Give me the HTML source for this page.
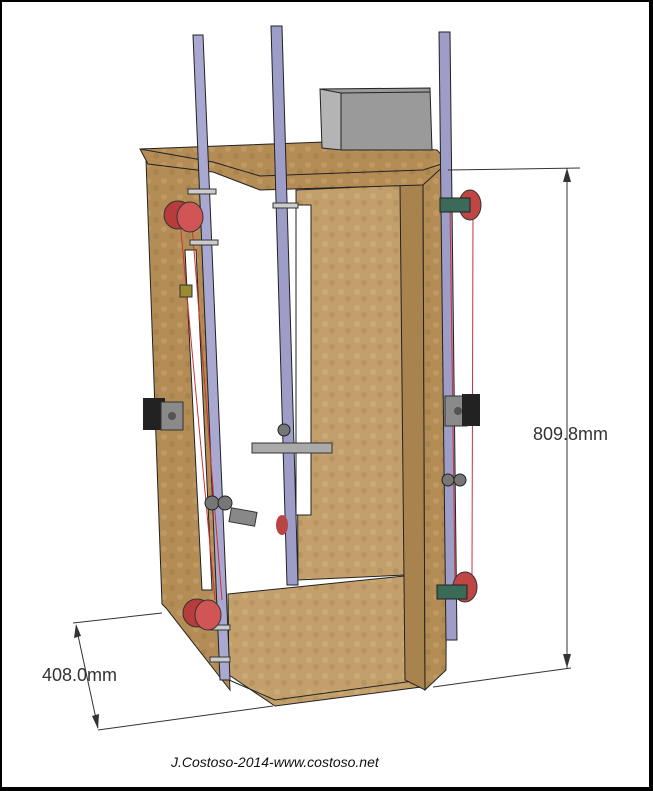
<!DOCTYPE html>
<html><head><meta charset="utf-8"><style>
html,body{margin:0;padding:0;background:#fff;}
svg{display:block;}
</style></head><body>
<svg width="653" height="791" viewBox="0 0 653 791" xmlns="http://www.w3.org/2000/svg">
<defs>
<pattern id="wood" width="16" height="16" patternUnits="userSpaceOnUse">
<rect width="16" height="16" fill="#b48d56"/>
<circle cx="4" cy="5" r="3" fill="#bf9862"/>
<circle cx="12" cy="12" r="3" fill="#a9834c"/>
</pattern>
<pattern id="woodL" width="16" height="16" patternUnits="userSpaceOnUse">
<rect width="16" height="16" fill="#c3a06b"/>
<circle cx="5" cy="4" r="3" fill="#cbaa76"/>
<circle cx="12" cy="11" r="3" fill="#b79460"/>
</pattern>
</defs>
<rect x="0" y="0" width="653" height="791" fill="#000"/>
<rect x="2" y="2" width="647" height="785" fill="#fff"/>

<polygon points="296,190 403,185 405,575 298,580" fill="url(#woodL)" stroke="#222" stroke-width="1"/>
<polygon points="296,205 311,205 311,515 296,515" fill="#fff" stroke="#222" stroke-width="1"/>
<polygon points="228,594 404,576 421,593 421,687 275,706 229,675" fill="url(#woodL)" stroke="#222" stroke-width="1"/>
<polyline points="229,680 275,700 421,680" fill="none" stroke="#222" stroke-width="1"/>
<polygon points="400,185 423,178 425,690 405,680" fill="#a9834e" stroke="#222" stroke-width="1"/>
<polygon points="423,178 448,162 446,670 425,690" fill="url(#wood)" stroke="#222" stroke-width="1"/>
<polygon points="146,160 205,170 230,690 166,608 162,604" fill="url(#wood)" stroke="#222" stroke-width="1"/>
<polygon points="185,250 196,250 212,590 202,590" fill="#fff" stroke="#222" stroke-width="1"/>
<polygon points="140,149 325,142 437,150 448,162 423,185 260,190 213,172 148,164" fill="url(#wood)" stroke="#222" stroke-width="1"/>
<polyline points="140,149 213,162 260,176 423,170 448,162" fill="none" stroke="#222" stroke-width="1"/>
<polygon points="320,89 430,88 432,150 341,150" fill="#9a9a9a" stroke="#222"/>
<polygon points="320,89 341,93 341,150 322,148" fill="#b4b4b4" stroke="#222"/>
<line x1="341" y1="93" x2="430" y2="92" stroke="#222"/>

<polygon points="193,35 203,35 230,680 220,680" fill="#a8a8d0" stroke="#222"/>
<polygon points="271,26 282,26 298,585 287,585" fill="#9d9dc8" stroke="#222"/>
<polygon points="439,32 450,32 457,640 446,640" fill="#9d9dc8" stroke="#222"/>
<line x1="180" y1="220" x2="215" y2="600" stroke="#c33" stroke-width="1"/>
<line x1="192" y1="225" x2="222" y2="600" stroke="#c33" stroke-width="1"/>
<line x1="450" y1="205" x2="455" y2="580" stroke="#c33" stroke-width="1"/>
<line x1="473" y1="210" x2="472" y2="575" stroke="#c33" stroke-width="1"/>

<rect x="188" y="189" width="28" height="5" fill="#ccc" stroke="#333"/>
<rect x="190" y="240" width="28" height="5" fill="#ccc" stroke="#333"/>
<rect x="273" y="203" width="25" height="5" fill="#ccc" stroke="#333"/>
<rect x="210" y="625" width="20" height="5" fill="#ccc" stroke="#333"/>
<rect x="210" y="657" width="20" height="5" fill="#ccc" stroke="#333"/>
<ellipse cx="178" cy="215" rx="14" ry="14" fill="#b83c3c" stroke="#333"/>
<ellipse cx="190" cy="217" rx="13" ry="15" fill="#d25555" stroke="#333"/>
<ellipse cx="197" cy="613" rx="14" ry="14" fill="#b83c3c" stroke="#333"/>
<ellipse cx="208" cy="615" rx="13" ry="15" fill="#d25555" stroke="#333"/>
<ellipse cx="470" cy="205" rx="11" ry="15" fill="#c04545" stroke="#333"/>
<ellipse cx="465" cy="587" rx="12" ry="15" fill="#c04545" stroke="#333"/>
<rect x="440" y="198" width="30" height="14" fill="#3c6a58" stroke="#222"/>
<rect x="437" y="585" width="30" height="14" fill="#3c6a58" stroke="#222"/>
<rect x="143" y="398" width="22" height="32" fill="#222"/>
<rect x="161" y="402" width="22" height="28" fill="#8a8a8a" stroke="#333"/>
<circle cx="172" cy="416" r="4" fill="#555"/>
<rect x="445" y="396" width="22" height="30" fill="#8a8a8a" stroke="#333"/>
<rect x="462" y="394" width="18" height="32" fill="#222"/>
<circle cx="458" cy="411" r="4" fill="#555"/>
<rect x="252" y="443" width="80" height="10" fill="#aaa" stroke="#333"/>
<rect x="230" y="510" width="26" height="14" fill="#888" stroke="#333" transform="rotate(10 243 517)"/>
<circle cx="212" cy="503" r="7" fill="#777" stroke="#222"/>
<circle cx="225" cy="503" r="7" fill="#777" stroke="#222"/>
<circle cx="448" cy="480" r="6" fill="#777" stroke="#222"/>
<circle cx="460" cy="480" r="6" fill="#777" stroke="#222"/>
<circle cx="284" cy="430" r="6" fill="#777" stroke="#222"/>
<ellipse cx="282" cy="525" rx="6" ry="10" fill="#b84444"/>
<rect x="180" y="285" width="12" height="12" fill="#9a8a30" stroke="#333"/>

<g stroke="#333" stroke-width="1" fill="none">
<line x1="448" y1="170" x2="580" y2="168"/>
<line x1="567" y1="168" x2="567" y2="668"/>
<line x1="433" y1="687" x2="571" y2="668"/>
<line x1="73" y1="623" x2="162" y2="613"/>
<line x1="98" y1="730" x2="273" y2="706"/>
<line x1="76" y1="626" x2="98" y2="728"/>
</g>
<polygon points="567,168 563,182 571,182" fill="#333"/>
<polygon points="567,668 563,654 571,654" fill="#333"/>
<polygon points="76,624 74,638 81,636" fill="#333"/>
<polygon points="98,729 92,716 99,714" fill="#333"/>
<text x="533" y="440" font-family="Liberation Sans, sans-serif" font-size="18" fill="#333">809.8mm</text>
<text x="42" y="681" font-family="Liberation Sans, sans-serif" font-size="18" fill="#333">408.0mm</text>
<text x="171" y="767" font-family="Liberation Sans, sans-serif" font-size="14" font-style="italic" fill="#111">J.Costoso-2014-www.costoso.net</text>
</svg>
</body></html>
